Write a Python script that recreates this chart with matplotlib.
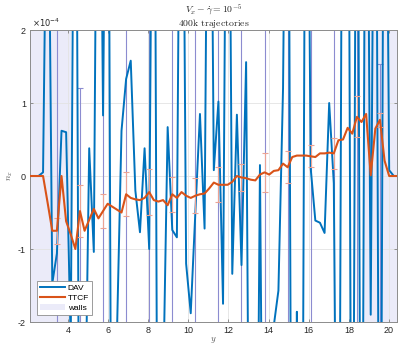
import numpy as np
import matplotlib
matplotlib.use('Agg')
import matplotlib.pyplot as plt
from matplotlib.patches import Patch
from matplotlib.lines import Line2D

plt.rcParams['font.family'] = ['Liberation Sans', 'DejaVu Sans']
plt.rcParams['mathtext.fontset'] = 'cm'
plt.rcParams['axes.unicode_minus'] = False

# positions y
y_pos = [2.07, 2.30, 2.53, 2.76, 2.99, 3.22, 3.45, 3.68, 3.91, 4.14,
         4.37, 4.60, 4.83, 5.06, 5.29, 5.52, 5.75, 5.98, 6.21, 6.44,
         6.67, 6.90, 7.13, 7.36, 7.59, 7.82, 8.05, 8.28, 8.51, 8.74,
         8.97, 9.20, 9.43, 9.66, 9.89, 10.12, 10.35, 10.58, 10.81, 11.04,
         11.27, 11.50, 11.73, 11.96, 12.19, 12.42, 12.65, 12.88, 13.11, 13.34,
         13.57, 13.80, 14.03, 14.26, 14.49, 14.72, 14.95, 15.18, 15.41, 15.64,
         15.87, 16.10, 16.33, 16.56, 16.79, 17.02, 17.25, 17.48, 17.71, 17.94,
         18.17, 18.40, 18.63, 18.86, 19.09, 19.32, 19.55, 19.78, 20.01, 20.24,
         20.47]

# values in units of 1e-4
dav = [0, 0, 0, 0.05, 5.5, -1.47, -1.06, 0.62, 0.6, -2.3,
       8, -7, -4, 0.38, -1.04, 8, 0.83, 8, -8, -2.2,
       0.62, 1.33, 1.58, -0.2, -0.77, 0.38, -1.0, 8, -8, -3,
       0.67, -0.74, -0.84, 8, -1.2, -1.88, -0.5, 0.85, -0.72, 8,
       0.08, 1.02, -1.75, 8, -1.34, 0.84, -1.22, 1.56, -8, -8,
       0.15, -8, -8, -2.05, -1.57, 1.2, 8, -8, -1.86, -8,
       8, 0.1, -0.61, -0.64, -0.78, 1.0, -0.1, -8, 8, 8,
       -8, 8, -8, 8, -1.9, 8, -8, 8, 0.08, 0,
       0]

ttcf = [0, 0, 0, 0, -0.37, -0.75, -0.75, 0.0, -0.62, -0.8,
        -1.0, -0.48, -0.75, -0.6, -0.45, -0.58, -0.48, -0.38, -0.42, -0.46,
        -0.5, -0.25, -0.3, -0.32, -0.33, -0.3, -0.22, -0.33, -0.35, -0.33,
        -0.4, -0.25, -0.3, -0.22, -0.27, -0.3, -0.27, -0.25, -0.24, -0.17,
        -0.09, -0.12, -0.12, -0.12, -0.08, 0.0, -0.02, -0.03, -0.05, -0.06,
        0.02, 0.05, 0.02, 0.07, 0.08, 0.17, 0.12, 0.26, 0.28, 0.28,
        0.28, 0.27, 0.26, 0.31, 0.31, 0.32, 0.31, 0.49, 0.5, 0.66,
        0.58, 0.81, 0.74, 0.85, 0.01, 0.65, 0.77, 0.21, 0.0, 0,
        0]

err_idx = [6, 11, 16, 21, 26, 31, 36, 41, 46, 51, 56, 61, 66, 71, 76]
ttcf_err = [0.18, 0.36, 0.23, 0.3, 0.32, 0.24, 0.24, 0.24, 0.18, 0.27,
            0.22, 0.15, 0.21, 0.28, 0.1]
dav_err = [12, 8.2, 12, 12, 12, 12, 12, 12, 12, 12,
           12, 12, 12, 12, 9.54]

walls = [(2.0, 4.15), (18.72, 20.5)]
x_ticks = [4, 6, 8, 10, 12, 14, 16, 18, 20]
y_ticks = [-2, -1, 0, 1, 2]
y_ticklabels = ['-2', '-1', '0', '1', '2']

x = np.array(y_pos)
dav_a = np.array(dav)
ttcf_a = np.array(ttcf)
xe = x[err_idx]

fig = plt.figure(figsize=(3.98, 3.47), dpi=100)
ax = fig.add_axes([0.0754, 0.072, 0.9221, 0.8415])

for a, b in walls:
    ax.axvspan(a, b, color='#ebebf9', lw=0, zorder=0)

ax.set_axisbelow(True)
ax.grid(True, color='#e3e3e3', lw=0.6, zorder=0.5)

ax.errorbar(xe, dav_a[err_idx], yerr=dav_err, fmt='none', ecolor='#8c8cd0',
            elinewidth=0.8, capsize=2.2, capthick=0.8, zorder=1)
ax.plot(x, dav_a, color='#0072BD', lw=1.4, zorder=2)
ax.errorbar(xe, ttcf_a[err_idx], yerr=ttcf_err, fmt='none', ecolor='#eba394',
            elinewidth=0.8, capsize=2.2, capthick=0.8, zorder=3)
ax.plot(x, ttcf_a, color='#D95319', lw=1.5, zorder=4)

ax.set_xlim(2.11, 20.4)
ax.set_ylim(-2, 2)
ax.set_xticks(x_ticks)
ax.set_yticks(y_ticks)
ax.set_yticklabels(y_ticklabels)
ax.tick_params(direction='in', length=2.5, width=0.6, colors='#808080',
               labelcolor='#262626', labelsize=6.5, top=True, right=True, pad=3)
for s in ax.spines.values():
    s.set_color('#8c8c8c')
    s.set_linewidth(0.7)

ax.set_xlabel(r'$y$', fontsize=6.5, color='#555555', labelpad=0)
ax.set_ylabel(r'$n_x$', fontsize=6.5, color='#555555', labelpad=2)

ax.text(0.005, 1.005, r'$\times10^{-4}$', transform=ax.transAxes, fontsize=6,
        color='#262626', ha='left', va='bottom', family='DejaVu Sans',
        math_fontfamily='dejavusans')

fig.text(214 / 398, 1 - 10 / 347, r'$V_x - \dot{\gamma} = 10^{-5}$', ha='center',
         va='center', fontsize=7, color='#262626')
fig.text(214 / 398, 1 - 23 / 347, r'$\mathrm{400k\ trajectories}$', ha='center',
         va='center', fontsize=7, color='#262626')

handles = [Line2D([], [], color='#0072BD', lw=1.4),
           Line2D([], [], color='#D95319', lw=1.5),
           Patch(facecolor='#ebebf9', edgecolor='none')]
leg = ax.legend(handles, ['DAV', 'TTCF', 'walls'], loc='lower left',
                bbox_to_anchor=(0.018, 0.024), borderaxespad=0, fontsize=6,
                handlelength=3.0, handleheight=0.8, labelspacing=0.25,
                handletextpad=0.4, borderpad=0.35, fancybox=False,
                framealpha=1)
leg.get_frame().set_edgecolor('#8c8c8c')
leg.get_frame().set_linewidth(0.6)

fig.savefig('out.png', dpi=100)
